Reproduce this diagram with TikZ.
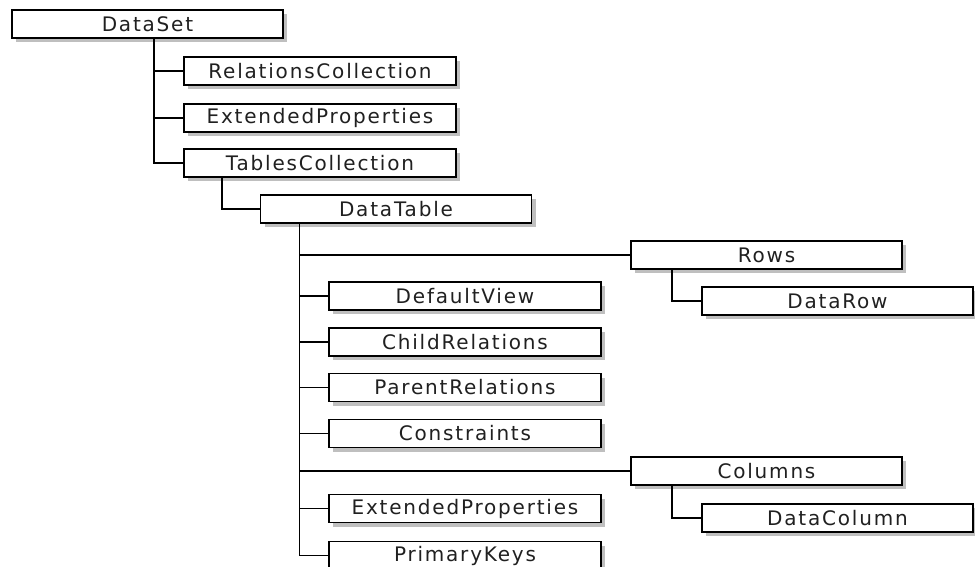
\documentclass[tikz,border=0pt]{standalone}
\usepackage{fontspec}
\setmainfont{DejaVu Sans}[LetterSpace=9]
\usetikzlibrary{shadows}
\definecolor{txt}{HTML}{202020}
\begin{document}
\begin{tikzpicture}[x=1pt,y=-1pt,
  box/.style={draw=black, line width=1.8pt, fill=white, inner sep=0pt,
    minimum width=#1, minimum height=28pt, text=txt,
    font=\fontsize{20}{22}\selectfont,
    drop shadow={shadow xshift=4pt, shadow yshift=-4pt, fill=gray!50, opacity=1}},
  box/.default=271pt,
  link/.style={line width=1.8pt, draw=black}]
\fill[white] (0,0) rectangle (975,566);
\path[use as bounding box, clip] (0,0) rectangle (975,566);
% level 0
\node[box] (ds) at (147.5,24) {DataSet};
% level 1
\node[box=272pt] (rc) at (320,71) {RelationsCollection};
\node[box=272pt] (ep1) at (320,118) {ExtendedProperties};
\node[box=272pt] (tc) at (320,163) {TablesCollection};
% level 2
\node[box] (dt) at (396,209) {DataTable};
% level 3
\node[box] (rows) at (766.5,255) {Rows};
\node[box] (drow) at (837.5,301) {DataRow};
\node[box=272pt] (dv) at (465,296) {DefaultView};
\node[box=272pt] (cr) at (465,342) {ChildRelations};
\node[box=272pt] (pr) at (465,387.5) {ParentRelations};
\node[box=272pt] (con) at (465,433.5) {Constraints};
\node[box] (cols) at (766.5,471) {Columns};
\node[box] (dcol) at (837.5,518) {DataColumn};
\node[box=272pt] (ep2) at (465,508.5) {ExtendedProperties};
\node[box=272pt] (pk) at (465,555.5) {PrimaryKeys};
% connectors
\coordinate (dsT) at ([xshift=6.5pt]ds.south);
\draw[link] (dsT) |- (tc.west);
\draw[link] (rc.west) -- (rc.west -| dsT);
\draw[link] (ep1.west) -- (ep1.west -| dsT);
\draw[link] ([xshift=-98pt]tc.south) |- (dt.west);
\coordinate (dtT) at ([xshift=-96.5pt]dt.south);
\draw[link] (dtT) |- (pk.west);
\foreach \n in {rows,dv,cr,pr,con,cols,ep2}
  \draw[link] (\n.west) -- (\n.west -| dtT);
\draw[link] ([xshift=-94.5pt]rows.south) |- (drow.west);
\draw[link] ([xshift=-94.5pt]cols.south) |- (dcol.west);
\end{tikzpicture}
\end{document}
